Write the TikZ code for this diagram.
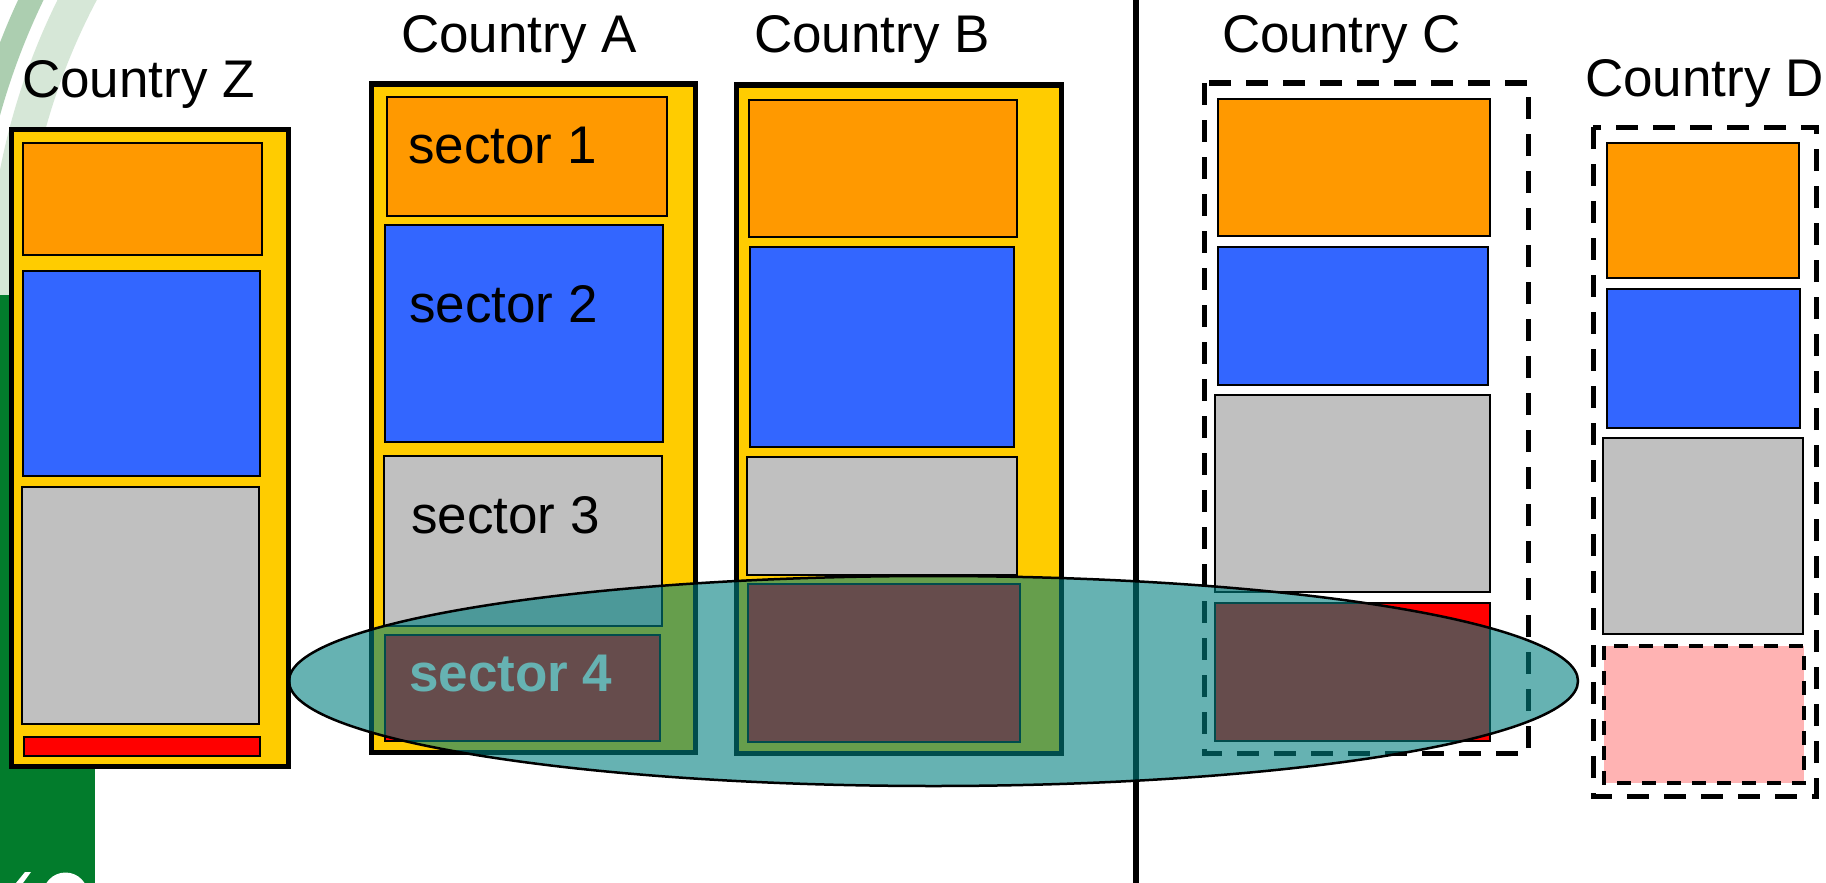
\documentclass[tikz,border=0pt]{standalone}
\usepackage{fontspec}
\setmainfont{Liberation Sans}
\definecolor{cyellow}{HTML}{FFCC00}
\definecolor{corange}{HTML}{FF9900}
\definecolor{cblue}{HTML}{3366FF}
\definecolor{cgrey}{HTML}{C0C0C0}
\definecolor{cred}{HTML}{FF0000}
\definecolor{cpink}{HTML}{FFB3B3}
\definecolor{cteal}{HTML}{008080}
\definecolor{cgreen}{RGB}{2,124,44}
\definecolor{arcdark}{RGB}{172,206,176}
\definecolor{arclight}{RGB}{214,231,215}
\begin{document}
\begin{tikzpicture}[x=1pt,y=-1pt,
  lbl/.style={anchor=base west, inner sep=0pt, font=\fontsize{53}{60}\selectfont},
  countrybox/.style={draw=black, line width=5pt, fill=cyellow},
  groupbox/.style={draw=black, line width=5pt, dash pattern=on 22pt off 15pt},
  sectorbox/.style={draw=black, line width=1.6pt},
  s1/.style={sectorbox, fill=corange},
  s2/.style={sectorbox, fill=cblue},
  s3/.style={sectorbox, fill=cgrey},
  s4/.style={sectorbox, fill=cred},
  s4weak/.style={draw=black, line width=4pt, dash pattern=on 14pt off 11pt, fill=cpink}]
\useasboundingbox (0,0) rectangle (1826,883);
\fill[white] (0,0) rectangle (1826,883);

% template decoration: pale arcs, green bar, logo fragment
\begin{scope}
  \clip (0,0) rectangle (130,300);
  \draw[arclight, line width=35pt] (664,300) circle [radius=659];
  \draw[arcdark, line width=23pt] (664,300) circle [radius=700.5];
\end{scope}
\fill[cgreen] (0,295) rectangle (95,883);
\begin{scope}
  \clip (0,0) rectangle (1826,883);
  \fill[white] (16,883) -- (25,872) -- (31,872) -- (23,883) -- cycle;
  \fill[white] (43,895) arc[start angle=180, end angle=360, radius=22.5] -- cycle;
\end{scope}

% divider
\draw[line width=6pt] (1136,0) -- (1136,883);

% Country Z
\draw[countrybox] (11,129) rectangle (288,766);
\draw[s1] (23,143) rectangle (262,255);
\draw[s2] (23,271) rectangle (260,476);
\draw[s3] (22,487) rectangle (259,724);
\draw[s4] (24,737) rectangle (260,756);

% Country A
\draw[countrybox] (371,84) rectangle (695,752);
\draw[s1] (387,97) rectangle (667,216);
\draw[s2] (385,225) rectangle (663,442);
\draw[s3] (384,456) rectangle (662,626);
\draw[s4] (385,635) rectangle (660,741);

% Country B
\draw[countrybox] (736,85) rectangle (1061,753);
\draw[s1] (749,100) rectangle (1017,237);
\draw[s2] (750,247) rectangle (1014,447);
\draw[s3] (747,457) rectangle (1017,575);
\draw[s4] (748,584) rectangle (1020,742);

% Country C
\draw[groupbox] (1204,83) rectangle (1528,753);
\draw[s1] (1218,99) rectangle (1490,236);
\draw[s2] (1218,247) rectangle (1488,385);
\draw[s3] (1215,395) rectangle (1490,592);
\draw[s4] (1215,603) rectangle (1490,741);

% Country D
\draw[groupbox] (1593,127) rectangle (1816,796);
\draw[s1] (1607,143) rectangle (1799,278);
\draw[s2] (1607,289) rectangle (1800,428);
\draw[s3] (1603,438) rectangle (1803,634);
\draw[s4weak] (1604,646) rectangle (1804,783);

% labels
\node[lbl] (labZ) at (22,97) {Country Z};
\node[lbl] (labA) at (401,53) {Country A};
\node[lbl] (labB) at (754,53) {Country B};
\node[lbl] (labC) at (1222,53) {Country C};
\node[lbl] (labD) at (1585,96) {Country D};
\node[lbl] (sec1) at (408,163) {sector 1};
\node[lbl] (sec2) at (409,322) {sector 2};
\node[lbl] (sec3) at (411,533) {sector 3};
\node[lbl, text=white, font=\fontsize{53}{60}\selectfont\bfseries] (sec4) at (409,691) {sector 4};

% translucent grouping of sector 4
\draw[fill=cteal, fill opacity=0.6, draw=black, line width=2.5pt]
  (933.5,681) ellipse [x radius=644.5, y radius=105];
\end{tikzpicture}
\end{document}
